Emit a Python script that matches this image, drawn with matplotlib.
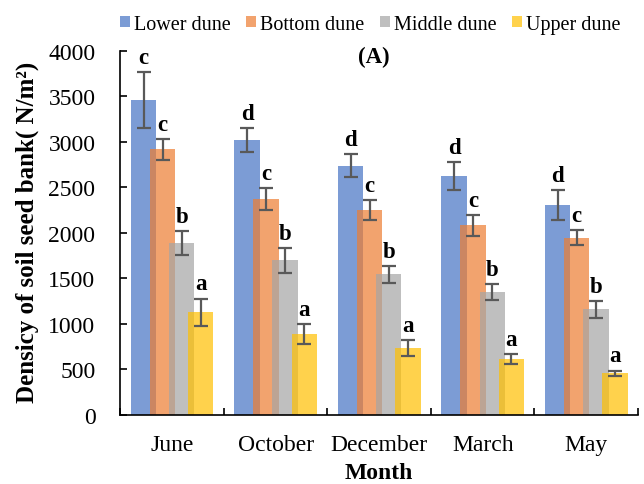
import numpy as np
import matplotlib
matplotlib.use('Agg')
import matplotlib.pyplot as plt
from matplotlib.patches import Patch
from matplotlib.ticker import FixedLocator

plt.rcParams['font.family'] = ['Liberation Serif', 'DejaVu Serif']

# Data
months = ['June', 'October', 'December', 'March', 'May']
series = ['Lower dune', 'Bottom dune', 'Middle dune', 'Upper dune']
lower = [3460, 3020, 2740, 2625, 2305]
bottom = [2920, 2375, 2255, 2085, 1950]
middle = [1890, 1700, 1545, 1350, 1160]
upper = [1130, 890, 735, 615, 458]
lower_err = [310, 130, 130, 150, 165]
bottom_err = [115, 120, 110, 115, 85]
middle_err = [135, 135, 95, 88, 95]
upper_err = [150, 105, 85, 57, 30]
lower_lab = ['c', 'd', 'd', 'd', 'd']
bottom_lab = ['c', 'c', 'c', 'c', 'c']
middle_lab = ['b', 'b', 'b', 'b', 'b']
upper_lab = ['a', 'a', 'a', 'a', 'a']

values = [lower, bottom, middle, upper]
errors = [lower_err, bottom_err, middle_err, upper_err]
letters = [lower_lab, bottom_lab, middle_lab, upper_lab]
colors = ['#4472C4', '#ED7D31', '#A5A5A5', '#FFC000']

fig = plt.figure(figsize=(6.44, 4.85), dpi=100)
ax = fig.add_axes([0.187, 0.1423, 0.8037, 0.7505])

x = np.arange(len(months))
step = 0.184
width = 0.246
for i in range(4):
    pos = x + (i - 1.5) * step
    ax.bar(pos, values[i], width, color=colors[i], alpha=0.7,
           edgecolor='none', label=series[i], zorder=2)
    ax.errorbar(pos, values[i], yerr=errors[i], fmt='none', ecolor='#595959',
                elinewidth=1.6, capsize=5, capthick=1.6, zorder=3)
    for j in range(len(months)):
        ax.text(pos[j], values[i][j] + errors[i][j] + 45, letters[i][j],
                ha='center', va='bottom', fontsize=16.5, fontweight='bold')

ax.set_xlim(-0.5, 4.5)
ax.set_ylim(0, 4000)
ax.set_yticks(np.arange(0, 4001, 500))
ax.set_xticks(x)
ax.set_xticklabels(months)
ax.xaxis.set_minor_locator(FixedLocator(np.arange(-0.5, 5, 1)))
ax.tick_params(axis='x', which='major', length=0, labelsize=17, pad=14)
ax.tick_params(axis='x', which='minor', direction='in', length=5, width=1.2)
ax.tick_params(axis='y', direction='in', length=5, width=1.2, labelsize=17, pad=18)
for s in ['top', 'right']:
    ax.spines[s].set_visible(False)
ax.spines['left'].set_linewidth(1.2)
ax.spines['bottom'].set_linewidth(1.2)

ax.set_xlabel('Month', fontsize=17, fontweight='bold')
ax.xaxis.set_label_coords(0.5, -0.13)
ax.set_ylabel('Densicy of soil seed bank( N/m²)', fontsize=18,
              fontweight='bold')
ax.yaxis.set_label_coords(-0.157, 0.505)
ax.text(0.489, 0.986, '(A)', transform=ax.transAxes, ha='center', va='center',
        fontsize=16.5, fontweight='bold')

handles = [Patch(facecolor=c, alpha=0.7, edgecolor='none') for c in colors]
fig.legend(handles, series, loc='center', bbox_to_anchor=(0.575, 0.948), ncol=4,
           frameon=False, fontsize=14.5, handlelength=0.5, handleheight=0.5,
           handletextpad=0.2, columnspacing=0.75)

fig.savefig('out.png', dpi=100)
